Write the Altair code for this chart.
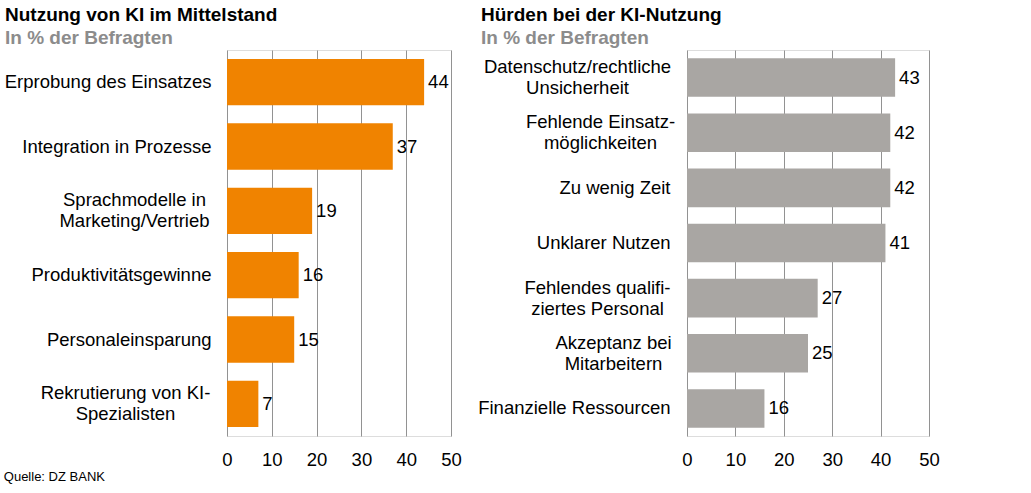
import altair as alt
import pandas as pd

FONT = "Liberation Sans"

# ---- data ----
left_categories = [
    "Erprobung des Einsatzes",
    "Integration in Prozesse",
    "Sprachmodelle in\nMarketing/Vertrieb",
    "Produktivitätsgewinne",
    "Personaleinsparung",
    "Rekrutierung von KI-\nSpezialisten",
]
left_values = [44, 37, 19, 16, 15, 7]

right_categories = [
    "Datenschutz/rechtliche\nUnsicherheit",
    "Fehlende Einsatz-\nmöglichkeiten",
    "Zu wenig Zeit",
    "Unklarer Nutzen",
    "Fehlendes qualifi-\nziertes Personal",
    "Akzeptanz bei\nMitarbeitern",
    "Finanzielle Ressourcen",
]
right_values = [43, 42, 42, 41, 27, 25, 16]

x_ticks = [0, 10, 20, 30, 40, 50]

left_df = pd.DataFrame({"cat": left_categories, "val": left_values})
right_df = pd.DataFrame({"cat": right_categories, "val": right_values})

# label padding (style) for the centred two-line labels
left_pad = {"Sprachmodelle": 93, "Rekrutierung": 102}
right_pad = {"Datenschutz": 110, "Fehlende Einsatz": 87, "Fehlendes qualifi": 90, "Akzeptanz": 74}

MULTI = "indexof(datum.value, '\\n') >= 0"


def pad_cond(pads, default):
    conds = [{"test": f"indexof(datum.value, '{k}') >= 0", "value": v} for k, v in pads.items()]
    return {"condition": conds, "value": default}


def panel(df, cats, color, width, pads, single_pad, band_pad, title, title_dx):
    y = alt.Y(
        "cat:N",
        sort=cats,
        title=None,
        scale=alt.Scale(paddingInner=band_pad, paddingOuter=band_pad / 2),
        axis=alt.Axis(
            domain=False,
            ticks=False,
            grid=False,
            labelFont=FONT,
            labelFontSize=18.5,
            labelColor="black",
            labelLimit=400,
            labelOverlap=False,
            labelLineHeight=21,
            labelExpr="split(datum.label, '\\n')",
            labelAlign={"condition": {"test": MULTI, "value": "center"}, "value": "right"},
            labelOffset={"condition": {"test": MULTI, "value": -10.5}, "value": 0},
            labelPadding=pad_cond(pads, single_pad),
        ),
    )
    x = alt.X(
        "val:Q",
        title=None,
        scale=alt.Scale(domain=[0, 50], nice=False),
        axis=alt.Axis(
            values=x_ticks,
            domain=False,
            ticks=False,
            grid=True,
            gridColor="#929292",
            gridWidth=1,
            labelFont=FONT,
            labelFontSize=18.5,
            labelColor="black",
            labelPadding=14,
            labelFlush=False,
        ),
    )
    base = alt.Chart(df)
    bars = base.mark_bar(color=color).encode(x=x, y=y)
    labels = base.mark_text(
        align="left", baseline="middle", dx=4, font=FONT, fontSize=18.5, color="black"
    ).encode(x="val:Q", y=alt.Y("cat:N", sort=cats), text="val:Q")
    return (bars + labels).properties(
        width=width,
        height=386,
        title=alt.TitleParams(
            text=title,
            subtitle="In % der Befragten",
            anchor="start",
            frame="group",
            dx=title_dx,
            font=FONT,
            fontSize=19,
            fontWeight="bold",
            color="black",
            subtitleFont=FONT,
            subtitleFontSize=19,
            subtitleFontWeight="bold",
            subtitleColor="#8c8c8c",
            subtitlePadding=4,
            offset=2,
        ),
    )


left = panel(left_df, left_categories, "#F08300", 224, left_pad, 16, 0.28,
             "Nutzung von KI im Mittelstand", -222)
right = panel(right_df, right_categories, "#A9A6A3", 242, right_pad, 17, 0.3,
              "Hürden bei der KI-Nutzung", -206)

chart = (
    alt.hconcat(left, right, spacing=236, bounds="flush")
    .properties(
        title=alt.TitleParams(
            text="Quelle: DZ BANK",
            orient="bottom",
            anchor="start",
            dx=0,
            font=FONT,
            fontSize=13,
            fontWeight="normal",
            color="black",
            offset=2,
        ),
        padding={"left": 3, "top": 5, "right": 5, "bottom": 5},
    )
    .configure_view(stroke=None)
    .configure(background="white")
)

chart.save("out.html", embed_options={"renderer": "svg", "actions": False})
